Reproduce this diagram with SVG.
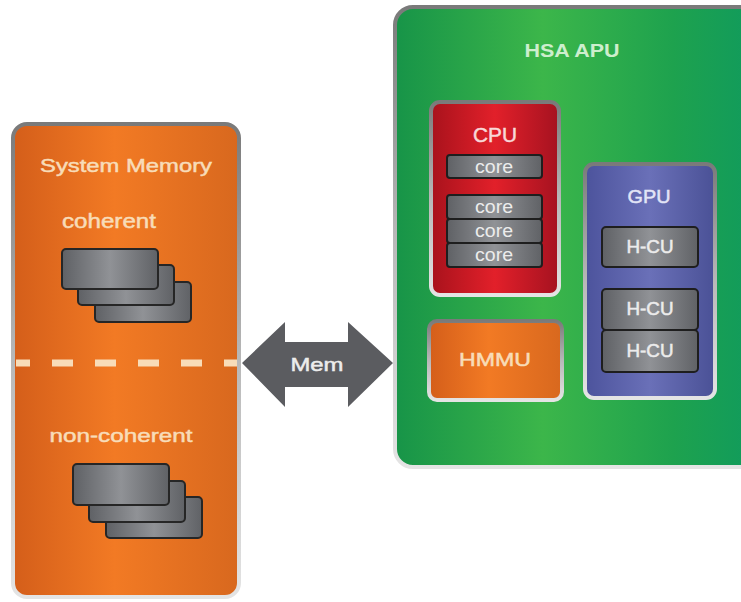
<svg xmlns="http://www.w3.org/2000/svg" width="741" height="602" viewBox="0 0 741 602">
  <defs>
    <linearGradient id="orangeFill" x1="0" y1="0" x2="1" y2="0">
      <stop offset="0" stop-color="#d45e1a"/>
      <stop offset="0.45" stop-color="#f27a24"/>
      <stop offset="1" stop-color="#d8681e"/>
    </linearGradient>
    <linearGradient id="greenFill" x1="0" y1="0" x2="1" y2="0">
      <stop offset="0" stop-color="#179448"/>
      <stop offset="0.4" stop-color="#3cb64a"/>
      <stop offset="0.75" stop-color="#1ea24e"/>
      <stop offset="1" stop-color="#0f9a5e"/>
    </linearGradient>
    <linearGradient id="redFill" x1="0" y1="0" x2="1" y2="0">
      <stop offset="0" stop-color="#a8121c"/>
      <stop offset="0.5" stop-color="#e2202a"/>
      <stop offset="1" stop-color="#a51220"/>
    </linearGradient>
    <linearGradient id="blueFill" x1="0" y1="0" x2="1" y2="0">
      <stop offset="0" stop-color="#4c539c"/>
      <stop offset="0.5" stop-color="#6a70b8"/>
      <stop offset="1" stop-color="#4a5196"/>
    </linearGradient>
    <linearGradient id="metal" x1="0" y1="0" x2="0" y2="1">
      <stop offset="0" stop-color="#7a7a7a"/>
      <stop offset="0.5" stop-color="#b8b8b8"/>
      <stop offset="1" stop-color="#e4e4e4"/>
    </linearGradient>
    <linearGradient id="chip" x1="0" y1="0" x2="1" y2="0">
      <stop offset="0" stop-color="#5f6165"/>
      <stop offset="0.5" stop-color="#909296"/>
      <stop offset="1" stop-color="#606266"/>
    </linearGradient>
    <style>
      text { font-family: "Liberation Sans", Arial, sans-serif; text-anchor: middle; }
      .frame { stroke: url(#metal); stroke-width: 4; }
      .card { fill: url(#chip); stroke: #262626; stroke-width: 2; }
      .unit { fill: url(#chip); stroke: #1e1e1e; stroke-width: 2; }
      .cream { fill: #f8dcb8; }
      .light { fill: #ececec; }
      .semi { stroke-width: 0.5; }
    </style>
  </defs>

  <!-- system memory -->
  <g id="system-memory">
    <rect class="frame" x="13" y="124" width="226" height="473" rx="14" fill="url(#orangeFill)"/>
    <text class="cream semi" stroke="#f8dcb8" x="126" y="172" font-size="19" textLength="172" lengthAdjust="spacingAndGlyphs">System Memory</text>
    <line x1="16" y1="363" x2="237" y2="363" stroke="#f8dcb8" stroke-width="7" stroke-dasharray="21 22" stroke-dashoffset="7"/>
  </g>

  <g id="coherent">
    <text class="cream semi" stroke="#f8dcb8" x="109" y="228" font-size="20" textLength="94" lengthAdjust="spacingAndGlyphs">coherent</text>
    <rect class="card" x="95" y="282" width="96" height="40" rx="4"/>
    <rect class="card" x="78" y="265" width="96" height="40" rx="4"/>
    <rect class="card" x="62" y="249" width="96" height="40" rx="4"/>
  </g>

  <g id="non-coherent">
    <text class="cream semi" stroke="#f8dcb8" x="121" y="442" font-size="19" textLength="143" lengthAdjust="spacingAndGlyphs">non-coherent</text>
    <rect class="card" x="106" y="497" width="96" height="41" rx="4"/>
    <rect class="card" x="89" y="481" width="96" height="41" rx="4"/>
    <rect class="card" x="73" y="464" width="96" height="41" rx="4"/>
  </g>

  <!-- memory link -->
  <g id="connectors">
    <polygon points="242,363 285,322 285,342 348,342 348,322 393,363 348,407 348,387 285,387 285,407" fill="#5b5c60"/>
    <text class="light semi" stroke="#ececec" x="317" y="371" font-size="19" textLength="53" lengthAdjust="spacingAndGlyphs">Mem</text>
  </g>

  <!-- APU -->
  <g id="hsa-apu">
    <rect class="frame" x="395" y="7" width="370" height="460" rx="18" fill="url(#greenFill)"/>
    <text x="572" y="57" font-size="19" font-weight="bold" fill="#cdeecd" textLength="95" lengthAdjust="spacingAndGlyphs">HSA APU</text>
  </g>

  <g id="cpu">
    <rect class="frame" x="431" y="102" width="128" height="193" rx="9" fill="url(#redFill)" stroke-width="3"/>
    <text class="semi" stroke="#f8d8d8" x="495" y="142" font-size="21" fill="#f8d8d8" textLength="44" lengthAdjust="spacingAndGlyphs">CPU</text>
    <rect class="unit" x="447" y="155" width="95" height="23" rx="3"/>
    <text class="light" x="494" y="173" font-size="18" textLength="38" lengthAdjust="spacingAndGlyphs">core</text>
    <rect class="unit" x="447" y="195" width="95" height="24" rx="3"/>
    <text class="light" x="494" y="213" font-size="18" textLength="38" lengthAdjust="spacingAndGlyphs">core</text>
    <rect class="unit" x="447" y="219" width="95" height="24" rx="3"/>
    <text class="light" x="494" y="237" font-size="18" textLength="38" lengthAdjust="spacingAndGlyphs">core</text>
    <rect class="unit" x="447" y="243" width="95" height="24" rx="3"/>
    <text class="light" x="494" y="261" font-size="18" textLength="38" lengthAdjust="spacingAndGlyphs">core</text>
  </g>

  <g id="gpu">
    <rect class="frame" x="585" y="164" width="130" height="234" rx="9" fill="url(#blueFill)" stroke-width="3"/>
    <text class="semi" stroke="#e2e4f6" x="649" y="203" font-size="19" fill="#e2e4f6" textLength="43" lengthAdjust="spacingAndGlyphs">GPU</text>
    <rect class="unit" x="602" y="227" width="96" height="40" rx="4"/>
    <text class="light semi" stroke="#ececec" x="650" y="253" font-size="18" textLength="47" lengthAdjust="spacingAndGlyphs">H-CU</text>
    <rect class="unit" x="602" y="289" width="96" height="41" rx="4"/>
    <text class="light semi" stroke="#ececec" x="650" y="315" font-size="18" textLength="47" lengthAdjust="spacingAndGlyphs">H-CU</text>
    <rect class="unit" x="602" y="330" width="96" height="42" rx="4"/>
    <text class="light semi" stroke="#ececec" x="650" y="357" font-size="18" textLength="47" lengthAdjust="spacingAndGlyphs">H-CU</text>
  </g>

  <g id="hmmu">
    <rect class="frame" x="429" y="321" width="133" height="79" rx="8" fill="url(#orangeFill)" stroke-width="3"/>
    <text class="cream semi" stroke="#f8dcb8" x="495" y="366" font-size="18" textLength="72" lengthAdjust="spacingAndGlyphs">HMMU</text>
  </g>
</svg>
